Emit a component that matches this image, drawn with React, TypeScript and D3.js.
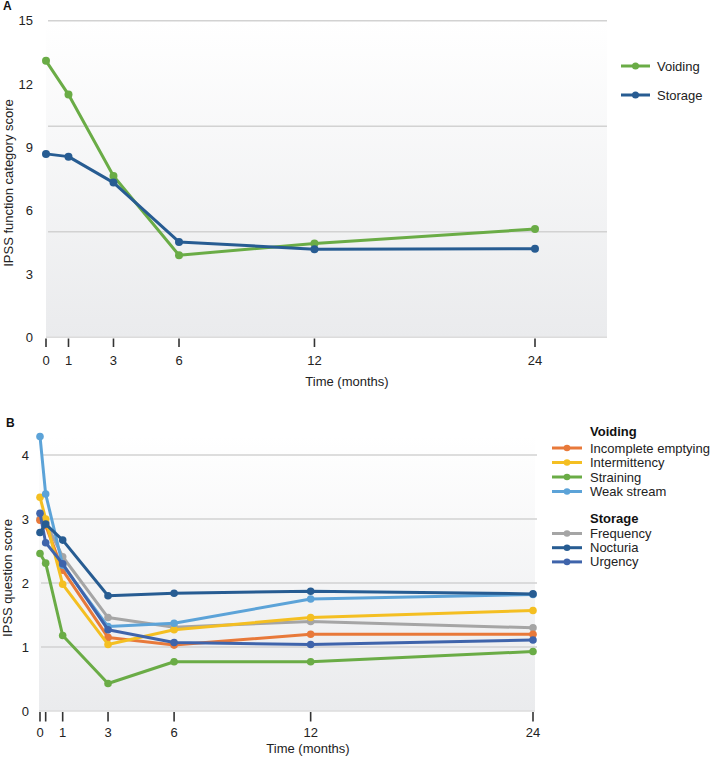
import React from "react";
import * as d3 from "d3";

// ---------- Panel A data ----------
const monthsA = [0, 1, 3, 6, 12, 24];
const voidingA = [13.1, 11.5, 7.64, 3.89, 4.44, 5.13];
const storageA = [8.69, 8.56, 7.33, 4.52, 4.17, 4.2];
const yTicksA = [0, 3, 6, 9, 12, 15];
const gridA = [5, 10, 15];

// ---------- Panel B data ----------
const monthsB = [0, 0.25, 1, 3, 6, 12, 24];
const xTicksB = [0, 0.25, 1, 3, 6, 12, 24];
const xLabelsB = ["0", "", "1", "3", "6", "12", "24"];
const incompleteEmptying = [2.98, 2.9, 2.2, 1.15, 1.03, 1.2, 1.2];
const intermittency = [3.34, 3.0, 1.98, 1.04, 1.27, 1.46, 1.57];
const straining = [2.46, 2.31, 1.18, 0.43, 0.77, 0.77, 0.93];
const weakStream = [4.29, 3.39, 2.28, 1.32, 1.37, 1.75, 1.82];
const frequency = [3.0, 2.95, 2.41, 1.46, 1.31, 1.4, 1.3];
const nocturia = [2.79, 2.92, 2.67, 1.8, 1.84, 1.87, 1.83];
const urgency = [3.09, 2.63, 2.3, 1.27, 1.07, 1.04, 1.11];
const yTicksB = [0, 1, 2, 3, 4];
const gridB = [1, 2, 3, 4];

const GREEN = "#6aac46";
const DARKBLUE = "#275c92";
const FONT = "'Liberation Sans', Arial, Helvetica, sans-serif";

// non-uniform month axis (as in the original figure)
const monthKnots = [0, 1, 3, 6, 12, 24];
const monthFrac = [0, 0.046, 0.138, 0.272, 0.549, 1];

const seriesB = [
  { name: "Frequency", values: frequency, color: "#a5a5a5" },
  { name: "Incomplete emptying", values: incompleteEmptying, color: "#e8793a" },
  { name: "Intermittency", values: intermittency, color: "#f4bf22" },
  { name: "Straining", values: straining, color: GREEN },
  { name: "Weak stream", values: weakStream, color: "#5ca3d8" },
  { name: "Urgency", values: urgency, color: "#3f64ab" },
  { name: "Nocturia", values: nocturia, color: DARKBLUE },
];
const legendVoiding = ["Incomplete emptying", "Intermittency", "Straining", "Weak stream"];
const legendStorage = ["Frequency", "Nocturia", "Urgency"];

export default function App() {
  // ----- Panel A scales -----
  const xA0 = 46, xA1 = 535;
  const xA = d3.scaleLinear().domain(monthKnots).range(monthFrac.map((f) => xA0 + f * (xA1 - xA0)));
  const yA = d3.scaleLinear().domain([0, 15]).range([337.3, 20.7]);
  const bgA = { x0: 46, x1: 607 };

  // ----- Panel B scales -----
  const xB0 = 40, xB1 = 533;
  const xB = d3.scaleLinear().domain(monthKnots).range(monthFrac.map((f) => xB0 + f * (xB1 - xB0)));
  const yB = d3.scaleLinear().domain([0, 4.3]).range([711, 435.8]);
  const bgB = { x0: 39, x1: 535 };

  const lineA = d3.line<number>().x((_, i) => xA(monthsA[i])).y((d) => yA(d));
  const lineB = d3.line<number>().x((_, i) => xB(monthsB[i])).y((d) => yB(d));

  const colorOf = (n: string) => seriesB.find((s) => s.name === n)!.color;

  return (
    <svg
      width={712}
      height={758}
      style={{ position: "absolute", left: 0, top: 0, background: "#fff" }}
      fontFamily={FONT}
    >
      <defs>
        <linearGradient id="bgGrad" x1="0" y1="0" x2="0" y2="1">
          <stop offset="0" stopColor="#ffffff" />
          <stop offset="1" stopColor="#eaebed" />
        </linearGradient>
      </defs>

      {/* ================= Panel A ================= */}
      <text x={3} y={10} fontSize={12} fontWeight="bold" fill="#111">A</text>
      <rect x={bgA.x0} y={yA(15)} width={bgA.x1 - bgA.x0} height={yA(0) - yA(15)} fill="url(#bgGrad)" />
      {gridA.map((g) => (
        <line key={g} x1={48} x2={bgA.x1} y1={yA(g)} y2={yA(g)} stroke="#d2d2d2" strokeWidth={1.5} />
      ))}
      <line x1={bgA.x0} x2={bgA.x1} y1={yA(0)} y2={yA(0)} stroke="#dcdcdc" strokeWidth={1.5} />
      {yTicksA.map((t) => (
        <text key={t} x={33} y={yA(t)} dy="0.35em" textAnchor="end" fontSize={13} fill="#222">{t}</text>
      ))}
      <text
        transform={`translate(13, ${(yA(0) + yA(15)) / 2 + 4}) rotate(-90)`}
        textAnchor="middle"
        fontSize={13}
        fill="#222"
      >
        IPSS function category score
      </text>
      {monthsA.map((m) => (
        <g key={m}>
          <line x1={xA(m)} x2={xA(m)} y1={338.5} y2={347} stroke="#333" strokeWidth={1.6} />
          <text x={xA(m)} y={365} textAnchor="middle" fontSize={13} fill="#222">{m}</text>
        </g>
      ))}
      <text x={347} y={386} textAnchor="middle" fontSize={13} fill="#222">Time (months)</text>

      {[
        { v: voidingA, c: GREEN },
        { v: storageA, c: DARKBLUE },
      ].map((s, k) => (
        <g key={k}>
          <path d={lineA(s.v) ?? ""} fill="none" stroke={s.c} strokeWidth={3} strokeLinejoin="round" />
          {s.v.map((d, i) => (
            <circle key={i} cx={xA(monthsA[i])} cy={yA(d)} r={4} fill={s.c} />
          ))}
        </g>
      ))}

      {/* Legend A */}
      {[
        { n: "Voiding", c: GREEN, y: 66 },
        { n: "Storage", c: DARKBLUE, y: 95 },
      ].map((l) => (
        <g key={l.n}>
          <line x1={621} x2={650} y1={l.y} y2={l.y} stroke={l.c} strokeWidth={3} />
          <circle cx={635.5} cy={l.y} r={3.5} fill={l.c} />
          <text x={657} y={l.y} dy="0.35em" fontSize={13} fill="#222">{l.n}</text>
        </g>
      ))}

      {/* ================= Panel B ================= */}
      <text x={6} y={427} fontSize={12} fontWeight="bold" fill="#111">B</text>
      <rect x={bgB.x0} y={yB(4.3)} width={bgB.x1 - bgB.x0} height={yB(0) - yB(4.3)} fill="url(#bgGrad)" />
      {gridB.map((g) => (
        <line key={g} x1={41} x2={537} y1={yB(g)} y2={yB(g)} stroke="#d2d2d2" strokeWidth={1.5} />
      ))}
      <line x1={bgB.x0} x2={bgB.x1} y1={yB(0)} y2={yB(0)} stroke="#dcdcdc" strokeWidth={1.5} />
      {yTicksB.map((t) => (
        <text key={t} x={29} y={yB(t)} dy="0.35em" textAnchor="end" fontSize={13} fill="#222">{t}</text>
      ))}
      <text
        transform={`translate(12, 578) rotate(-90)`}
        textAnchor="middle"
        fontSize={13}
        fill="#222"
      >
        IPSS question score
      </text>
      {xTicksB.map((m, i) => (
        <g key={m}>
          <line x1={xB(m)} x2={xB(m)} y1={712} y2={721.5} stroke="#333" strokeWidth={1.6} />
          {xLabelsB[i] && (
            <text x={xB(m)} y={737} textAnchor="middle" fontSize={13} fill="#222">{xLabelsB[i]}</text>
          )}
        </g>
      ))}
      <text x={308} y={753} textAnchor="middle" fontSize={13} fill="#222">Time (months)</text>

      {seriesB.map((s) => (
        <g key={s.name}>
          <path d={lineB(s.values) ?? ""} fill="none" stroke={s.color} strokeWidth={3} strokeLinejoin="round" />
          {s.values.map((d, i) => (
            <circle key={i} cx={xB(monthsB[i])} cy={yB(d)} r={3.8} fill={s.color} />
          ))}
        </g>
      ))}

      {/* Legend B */}
      <text x={590} y={431.5} dy="0.35em" fontSize={13} fontWeight="bold" fill="#111">Voiding</text>
      {legendVoiding.map((n, i) => {
        const y = 448 + i * 14.5;
        return (
          <g key={n}>
            <line x1={552} x2={582} y1={y} y2={y} stroke={colorOf(n)} strokeWidth={3} />
            <circle cx={567} cy={y} r={3.3} fill={colorOf(n)} />
            <text x={590} y={y} dy="0.35em" fontSize={13} fill="#222">{n}</text>
          </g>
        );
      })}
      <text x={590} y={518} dy="0.35em" fontSize={13} fontWeight="bold" fill="#111">Storage</text>
      {legendStorage.map((n, i) => {
        const y = 533.5 + i * 14.2;
        return (
          <g key={n}>
            <line x1={552} x2={582} y1={y} y2={y} stroke={colorOf(n)} strokeWidth={3} />
            <circle cx={567} cy={y} r={3.3} fill={colorOf(n)} />
            <text x={590} y={y} dy="0.35em" fontSize={13} fill="#222">{n}</text>
          </g>
        );
      })}
    </svg>
  );
}
